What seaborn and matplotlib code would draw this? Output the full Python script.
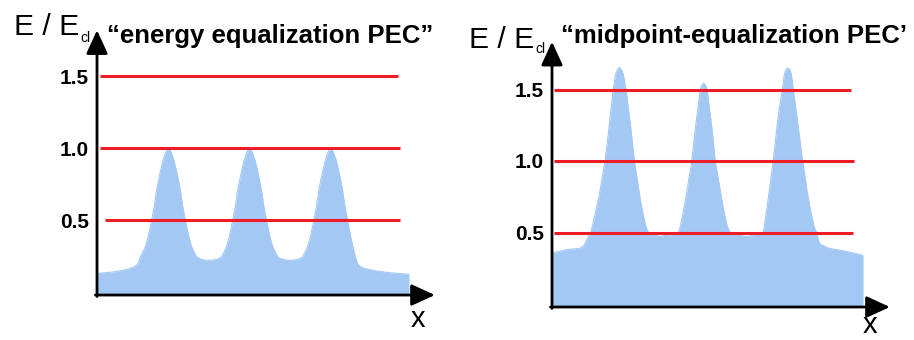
import matplotlib
matplotlib.use("Agg")
import matplotlib.pyplot as plt
import seaborn as sns
import pandas as pd

# Potential energy curves along the chain coordinate x (E in units of E_cl)
energy_x = [0.00, 0.30, 0.58, 0.99, 1.20, 1.32, 1.39, 1.47, 1.55, 1.64, 1.75, 1.83, 1.91, 2.02,
            2.12, 2.21, 2.29, 2.37, 2.46, 2.56, 2.67, 2.75, 2.83, 2.94, 3.03, 3.11, 3.19, 3.30,
            3.45, 3.59, 3.73, 3.88, 3.99, 4.07, 4.15, 4.24, 4.35, 4.43, 4.51, 4.62, 4.72, 4.81,
            4.89, 4.97, 5.06, 5.16, 5.27, 5.35, 5.43, 5.54, 5.63, 5.71, 5.79, 5.90, 6.05, 6.19,
            6.33, 6.48, 6.59, 6.67, 6.75, 6.84, 6.95, 7.03, 7.11, 7.22, 7.32, 7.41, 7.49, 7.57,
            7.66, 7.76, 7.87, 7.95, 8.03, 8.13, 8.20, 8.28, 8.34, 8.45, 8.56, 8.96, 9.39, 10.00]
energy_e = [0.130, 0.137, 0.143, 0.160, 0.178, 0.200, 0.247, 0.280, 0.317, 0.386, 0.500, 0.590,
            0.710, 0.830, 0.920, 0.975, 1.000, 0.975, 0.920, 0.830, 0.710, 0.590, 0.500, 0.386,
            0.317, 0.280, 0.247, 0.232, 0.224, 0.222, 0.224, 0.232, 0.247, 0.280, 0.317, 0.386,
            0.500, 0.590, 0.710, 0.830, 0.920, 0.975, 1.000, 0.975, 0.920, 0.830, 0.710, 0.590,
            0.500, 0.386, 0.317, 0.280, 0.247, 0.232, 0.224, 0.222, 0.224, 0.232, 0.247, 0.280,
            0.317, 0.386, 0.500, 0.590, 0.710, 0.830, 0.920, 0.975, 1.000, 0.975, 0.920, 0.830,
            0.710, 0.590, 0.500, 0.386, 0.317, 0.247, 0.200, 0.178, 0.165, 0.148, 0.136, 0.125]

midpoint_x = [0.00, 0.47, 0.90, 1.03, 1.11, 1.24, 1.29, 1.41, 1.52, 1.70, 1.83, 1.89, 1.96, 2.04,
              2.10, 2.16, 2.22, 2.28, 2.37, 2.45, 2.52, 2.64, 2.80, 2.89, 3.01, 3.09, 3.20, 3.35,
              3.46, 3.58, 3.75, 3.90, 4.05, 4.11, 4.22, 4.31, 4.48, 4.60, 4.67, 4.75, 4.80, 4.86,
              4.92, 4.97, 5.05, 5.12, 5.23, 5.41, 5.50, 5.62, 5.71, 5.85, 6.00, 6.12, 6.24, 6.36,
              6.50, 6.64, 6.77, 6.80, 6.88, 6.95, 7.09, 7.21, 7.28, 7.38, 7.45, 7.50, 7.56, 7.62,
              7.67, 7.73, 7.82, 7.89, 8.03, 8.19, 8.28, 8.40, 8.48, 8.53, 8.59, 8.86, 9.39, 9.97]
midpoint_e = [0.355, 0.380, 0.390, 0.410, 0.450, 0.500, 0.540, 0.657, 0.770, 1.000, 1.240, 1.357,
              1.500, 1.610, 1.640, 1.655, 1.640, 1.610, 1.500, 1.357, 1.240, 1.000, 0.770, 0.657,
              0.540, 0.500, 0.485, 0.478, 0.472, 0.478, 0.482, 0.488, 0.500, 0.540, 0.657, 0.770,
              1.000, 1.240, 1.357, 1.500, 1.530, 1.545, 1.530, 1.500, 1.357, 1.240, 1.000, 0.770,
              0.657, 0.540, 0.500, 0.487, 0.480, 0.476, 0.472, 0.476, 0.485, 0.493, 0.500, 0.540,
              0.657, 0.770, 1.000, 1.240, 1.357, 1.500, 1.610, 1.640, 1.650, 1.640, 1.610, 1.500,
              1.357, 1.240, 1.000, 0.770, 0.657, 0.540, 0.500, 0.450, 0.420, 0.390, 0.370, 0.340]

levels = [0.5, 1.0, 1.5]
level_labels = ["0.5", "1.0", "1.5"]
titles = ["\u201cenergy equalization PEC\u201d", "\u201cmidpoint-equalization PEC\u2019"]
axis_label_y = "E / E"
axis_label_y_sub = "cl"
axis_label_x = "x"

sns.set_theme(style="white")
plt.rcParams["font.family"] = ["Liberation Sans", "DejaVu Sans"]
plt.rcParams["text.color"] = "black"
plt.rcParams["ytick.color"] = "black"

W, H = 914, 340
fig = plt.figure(figsize=(W / 100, H / 100), dpi=100)

FILL = "#a3c8f4"
RED = "#ee1c25"


def px_axes(left, top, right, bottom, x0, sx, y0, sy):
    ax = fig.add_axes([left / W, 1 - bottom / H, (right - left) / W, (bottom - top) / H])
    ax.set_xlim((left - x0) / sx, (right - x0) / sx)
    ax.set_ylim((y0 - bottom) / sy, (y0 - top) / sy)
    return ax


def draw_panel(ax, xs, es, x_axis_y, y_tip, x_tip, red_spans):
    df = pd.DataFrame({"x": xs, "E": es})
    ax.fill_between(df["x"], x_axis_y, df["E"], color=FILL, lw=0, zorder=1)
    sns.lineplot(data=df, x="x", y="E", ax=ax, color=FILL, lw=0.8, zorder=1.5,
                 estimator=None, sort=False)
    for lvl, (xa, xb) in zip(levels, red_spans):
        ax.hlines(lvl, xa, xb, color=RED, lw=2.2, zorder=3)
    arrow = dict(arrowstyle="-|>,head_length=1.2,head_width=0.55", color="black",
                 lw=2.0, shrinkA=0, shrinkB=0, mutation_scale=12)
    ax.annotate("", xy=(x_tip, x_axis_y), xytext=(-0.05, x_axis_y),
                arrowprops=arrow, annotation_clip=False, zorder=4)
    ax.annotate("", xy=(0, y_tip), xytext=(0, x_axis_y - 0.01),
                arrowprops=arrow, annotation_clip=False, zorder=4)
    for s in ax.spines.values():
        s.set_visible(False)
    ax.set_xticks([])
    ax.set_yticks(levels)
    ax.set_yticklabels(level_labels, fontweight="bold", fontsize=15, color="black")
    ax.tick_params(axis="y", length=0, pad=6)
    ax.set_xlabel("")
    ax.set_ylabel("")
    ax.patch.set_alpha(0)


# left panel: energy equalization (red spans listed for 0.5, 1.0, 1.5)
ax1 = px_axes(97, 20, 445, 300, 97, 31.2, 292.3, 144)
draw_panel(ax1, energy_x, energy_e, -0.019, 1.82, 10.83,
           [(0.25, 9.7), (0.1, 9.7), (0.1, 9.65)])

# right panel: midpoint equalization
ax2 = px_axes(552, 35, 900, 312, 552, 31.2, 304, 143)
draw_panel(ax2, midpoint_x, midpoint_e, -0.021, 1.834, 10.83,
           [(0.05, 9.66), (0.05, 9.68), (0.05, 9.57)])


def ftext(x, y, s, **kw):
    fig.text(x / W, 1 - y / H, s, va="baseline", ha="left", color="black", **kw)


ftext(14, 35, axis_label_y, fontsize=21.6)
ftext(80, 41.5, axis_label_y_sub, fontsize=10)
ftext(107, 43, titles[0], fontsize=18.5, fontweight="bold")
ftext(411, 327, axis_label_x, fontsize=21)

ftext(469, 47.7, axis_label_y, fontsize=21.6)
ftext(535, 53, axis_label_y_sub, fontsize=10)
ftext(561, 43, titles[1], fontsize=18.5, fontweight="bold")
ftext(863, 333, axis_label_x, fontsize=21)

fig.savefig("out.png", dpi=100)
